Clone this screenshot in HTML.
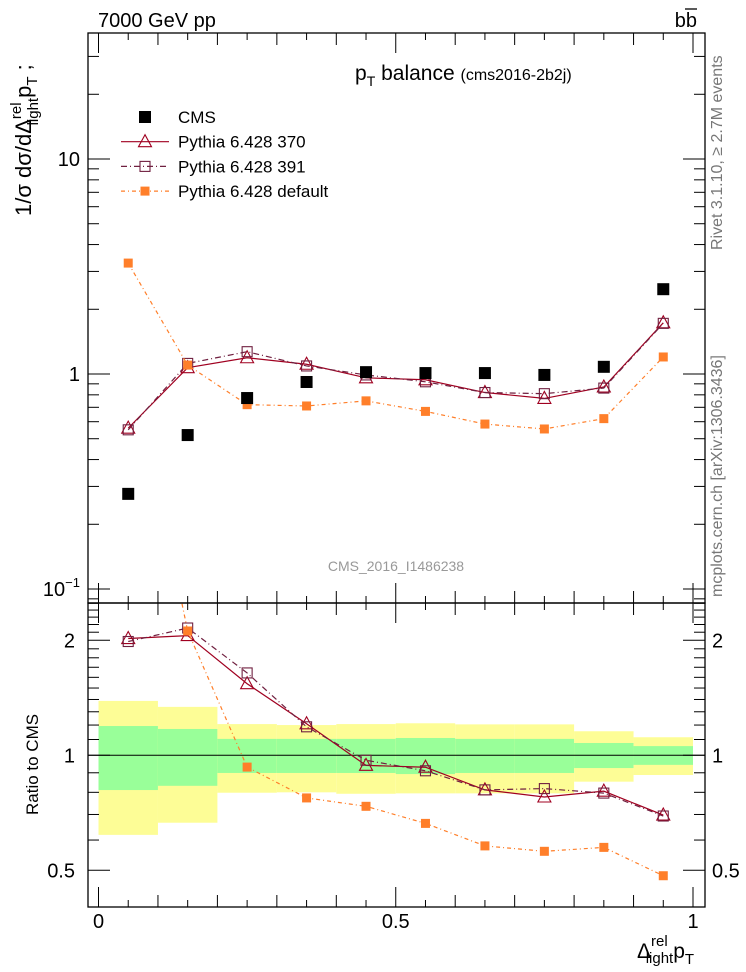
<!DOCTYPE html>
<html><head><meta charset="utf-8"><style>
html,body{margin:0;padding:0;background:#fff}
svg{display:block;font-family:"Liberation Sans",sans-serif}
</style></head><body>
<svg id="c" width="746" height="972" viewBox="0 0 746 972" xmlns="http://www.w3.org/2000/svg">
<text x="98" y="27" font-size="20">7000 GeV pp</text>
<text x="697" y="27" font-size="20" text-anchor="end">bb</text>
<line x1="685" y1="9" x2="697" y2="9" stroke="#000" stroke-width="1.3"/>
<text x="355" y="80" font-size="21">p<tspan font-size="14" dy="6">T</tspan><tspan dy="-6"> balance </tspan><tspan font-size="16">(cms2016-2b2j)</tspan></text>
<text transform="translate(31,216) rotate(-90)" font-size="22">1/σ dσ/dΔ<tspan font-size="15" dy="-10">rel</tspan><tspan font-size="15" dx="-23" dy="17">light</tspan><tspan dy="-7">p</tspan><tspan font-size="15" dy="6">T</tspan><tspan dy="-6"> ;</tspan></text>
<text transform="translate(38,815) rotate(-90)" font-size="17">Ratio to CMS</text>
<text x="637" y="958" font-size="21">Δ<tspan font-size="15" dy="-12">rel</tspan><tspan font-size="15" dx="-22" dy="17">light</tspan><tspan dy="-5">p</tspan><tspan font-size="15" dy="6">T</tspan></text>
<text transform="translate(722,250) rotate(-90)" font-size="16" fill="#777">Rivet 3.1.10, ≥ 2.7M events</text>
<text transform="translate(722,597) rotate(-90)" font-size="16" fill="#777">mcplots.cern.ch [arXiv:1306.3436]</text>
<text x="396" y="571" font-size="14" fill="#999" text-anchor="middle">CMS_2016_I1486238</text>
<g id="g"></g>
</svg>
<script>
const xCenters=[0.05,0.15,0.25,0.35,0.45,0.55,0.65,0.75,0.85,0.95];
const binEdges=[0,0.1,0.2,0.3,0.4,0.5,0.6,0.7,0.8,0.9,1.0];
const cmsVals=[0.277,0.52,0.773,0.918,1.02,1.01,1.01,0.99,1.08,2.48];
const py370=[0.56,1.07,1.19,1.11,0.96,0.94,0.82,0.77,0.87,1.73];
const py391=[0.55,1.12,1.27,1.09,0.99,0.92,0.82,0.81,0.86,1.72];
const pyDef=[3.28,1.10,0.72,0.71,0.75,0.67,0.585,0.555,0.62,1.2];
const yellowHi=[1.388,1.339,1.207,1.2,1.207,1.213,1.205,1.205,1.156,1.115];
const yellowLo=[0.619,0.666,0.798,0.80,0.793,0.795,0.795,0.795,0.853,0.888];
const greenHi=[1.193,1.172,1.104,1.104,1.104,1.11,1.104,1.104,1.077,1.057];
const greenLo=[0.811,0.832,0.899,0.899,0.899,0.893,0.899,0.899,0.926,0.944];
const mainTicks=[0.1,1,10];
const mainTickLabels=["10","1","10"];
const ratioTicks=[0.5,1,2];
const ratioTickLabels=["0.5","1","2"];
const xTicks=[0,0.5,1];
const xTickLabels=["0","0.5","1"];

const L=88,R=705,T=33,MB=603,RB=907;
const X=v=>98.5+v*594.5;
const Y=v=>374-215*Math.log10(v);
const YR=v=>755.3-382*Math.log10(v);
const g=document.getElementById('g');
const NS='http://www.w3.org/2000/svg';
function mk(t,a,p){const e=document.createElementNS(NS,t);for(const k in a)e.setAttribute(k,a[k]);(p||g).appendChild(e);return e;}

const bandG=mk('g',{});


for(let i=0;i<xCenters.length;i++){
  const r1=mk('rect',{x:X(binEdges[i]),width:X(binEdges[i+1])-X(binEdges[i]),y:YR(yellowHi[i]),height:YR(yellowLo[i])-YR(yellowHi[i]),fill:'#fdfd96'},bandG);
  
  
  const r2=mk('rect',{x:X(binEdges[i]),width:X(binEdges[i+1])-X(binEdges[i]),y:YR(greenHi[i]),height:YR(greenLo[i])-YR(greenHi[i]),fill:'#99ff99'},bandG);
  
  
}
const ref=mk('line',{x1:L,x2:R,y1:YR(1),y2:YR(1),stroke:'#000','stroke-width':1});



const defs=mk('defs',{});
const c1=mk('clipPath',{id:'cm'},defs);mk('rect',{x:L,y:T,width:R-L,height:MB-T},c1);
const c2=mk('clipPath',{id:'cr'},defs);mk('rect',{x:L,y:MB,width:R-L,height:RB-MB},c2);

const series=[
 {name:'pythia-370',vals:py370,col:'#a00020',dash:'',mk:'tri'},
 {name:'pythia-391',vals:py391,col:'#702040',dash:'6,3,1,3',mk:'sq'},
 {name:'pythia-default',vals:pyDef,col:'#ff7f2a',dash:'4,3,1,3',mk:'fsq'}];
function marker(par,m,x,y,col,name){
  let e;
  if(m==='tri')e=mk('polygon',{points:`${x},${y-7} ${x-6.5},${y+5} ${x+6.5},${y+5}`,fill:'none',stroke:col,'stroke-width':1.1},par);
  else if(m==='sq')e=mk('rect',{x:x-5,y:y-5,width:10,height:10,fill:'none',stroke:col,'stroke-width':1.1},par);
  else if(m==='fsq')e=mk('rect',{x:x-4.5,y:y-4.5,width:9,height:9,fill:col},par);
  else e=mk('rect',{x:x-6,y:y-6,width:12,height:12,fill:'#000'},par);
  
  
}
series.forEach(s=>{
  const gm=mk('g',{'clip-path':'url(#cm)'});
  
  
  mk('polyline',{points:xCenters.map((x,i)=>X(x)+','+Y(s.vals[i])).join(' '),fill:'none',stroke:s.col,'stroke-width':1.2,'stroke-dasharray':s.dash},gm);
  xCenters.forEach((x,i)=>marker(gm,s.mk,X(x),Y(s.vals[i]),s.col,s.name+'-point'));
  const gr=mk('g',{'clip-path':'url(#cr)'});
  
  
  mk('polyline',{points:xCenters.map((x,i)=>X(x)+','+YR(s.vals[i]/cmsVals[i])).join(' '),fill:'none',stroke:s.col,'stroke-width':1.2,'stroke-dasharray':s.dash},gr);
  xCenters.forEach((x,i)=>marker(gr,s.mk,X(x),YR(s.vals[i]/cmsVals[i]),s.col,s.name+'-ratio-point'));
});
const gc=mk('g',{});


xCenters.forEach((x,i)=>marker(gc,'cms',X(x),Y(cmsVals[i]),'#000','cms-point'));

const f1=mk('rect',{x:L,y:T,width:R-L,height:MB-T,fill:'none',stroke:'#000','stroke-width':1.3});


const f2=mk('rect',{x:L,y:MB,width:R-L,height:RB-MB,fill:'none',stroke:'#000','stroke-width':1.3});



const tg=mk('g',{stroke:'#000','stroke-width':1});


for(let k=0;k<=20;k++){
  const v=k*0.05,x=X(v);
  const len=(k%10===0)?20:(k%2===0?12:7);
  [[T,1],[MB,-1],[MB,1],[RB,-1]].forEach(([y0,d])=>mk('line',{x1:x,x2:x,y1:y0,y2:y0+d*len},tg));
}
for(let e=-2;e<=1;e++)for(let m=1;m<=9;m++){
  const v=m*Math.pow(10,e),y=Y(v);if(y<T||y>MB)continue;
  const len=m===1?22:11;
  mk('line',{x1:L,x2:L+len,y1:y,y2:y},tg);mk('line',{x1:R,x2:R-len,y1:y,y2:y},tg);
}
for(let k=4;k<=25;k++){
  const v=k/10,y=YR(v);if(y<MB||y>RB)continue;
  const len=(k===5||k===10||k===20)?22:11;
  mk('line',{x1:L,x2:L+len,y1:y,y2:y},tg);mk('line',{x1:R,x2:R-len,y1:y,y2:y},tg);
}
xTicks.forEach((v,i)=>{const t=mk('text',{x:X(v),y:928,'font-size':20,'text-anchor':'middle'});t.textContent=xTickLabels[i];
 });
mainTicks.forEach((v,i)=>{const t=mk('text',{x:80,y:Y(v)+7,'font-size':20,'text-anchor':'end'});t.textContent=mainTickLabels[i];
 if(v===0.1){const s=mk('tspan',{'font-size':13,dy:-9},t);s.textContent='−1';}
 });
ratioTicks.forEach((v,i)=>{[[75,'end'],[712,'start']].forEach(([x,a])=>{const t=mk('text',{x:x,y:YR(v)+7,'font-size':20,'text-anchor':a});t.textContent=ratioTickLabels[i];
 });});

const lg=mk('g',{});


const leg=[['CMS',null],['Pythia 6.428 370',series[0]],['Pythia 6.428 391',series[1]],['Pythia 6.428 default',series[2]]];
leg.forEach(([lab,s],i)=>{
  const y=117+i*24.7;
  const eg=mk('g',{},lg);
  
  
  if(s){mk('line',{x1:121,x2:169,y1:y,y2:y,stroke:s.col,'stroke-width':1.2,'stroke-dasharray':s.dash},eg);marker(eg,s.mk,145,y,s.col,'legend-marker');}
  else marker(eg,'cms',145,y,'#000','legend-marker');
  const t=mk('text',{x:178,y:y+6,'font-size':17},eg);t.textContent=lab;
});
</script>
</body></html>
